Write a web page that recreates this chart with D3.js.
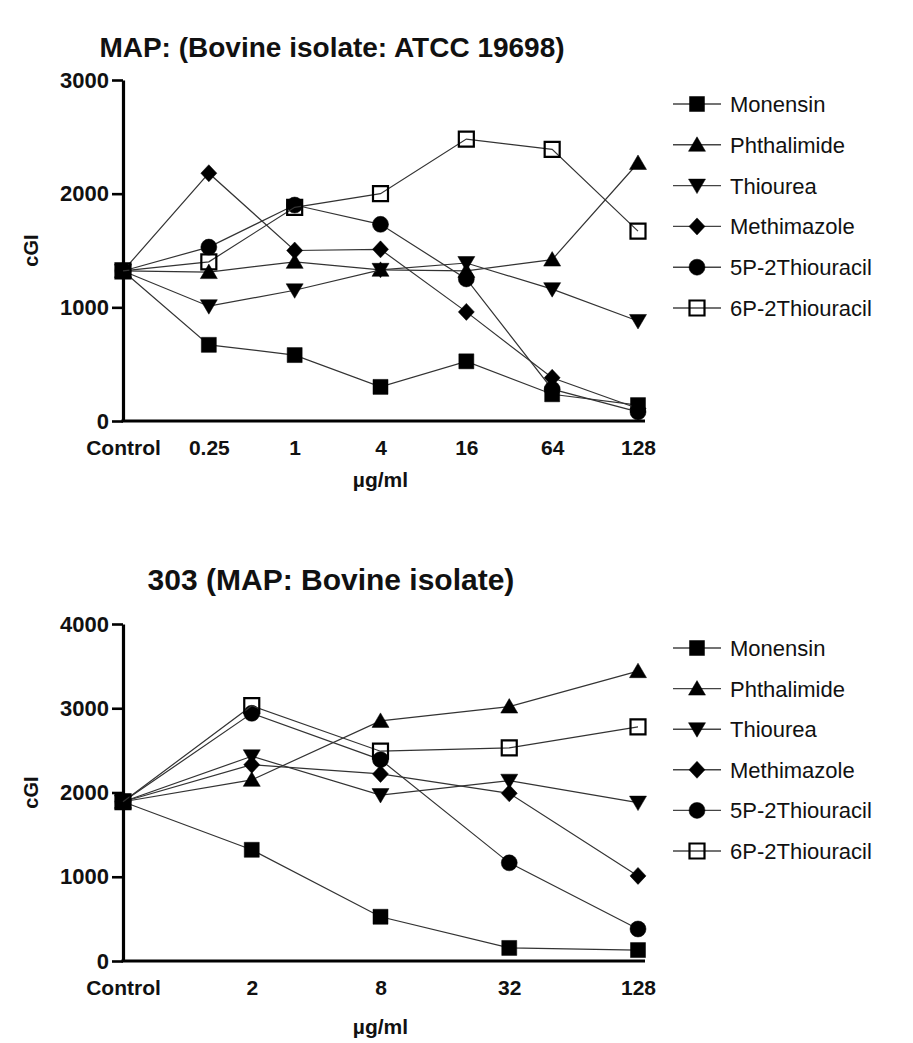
<!DOCTYPE html>
<html>
<head>
<meta charset="utf-8">
<script src="https://cdn.jsdelivr.net/npm/d3@7"></script>
<style>
  html, body { margin: 0; padding: 0; background: #fff; }
  svg { display: block; }
  text { font-family: "Liberation Sans", Arial, Helvetica, sans-serif; fill: #111; }
</style>
</head>
<body>
<svg id="chart" width="913" height="1043"></svg>
<script>
// ---------- DATA ----------
const seriesNames = ["Monensin", "Phthalimide", "Thiourea", "Methimazole", "5P-2Thiouracil", "6P-2Thiouracil"];
const seriesShapes = ["square", "triangleUp", "triangleDown", "diamond", "circle", "openSquare"];

// Top panel: MAP: (Bovine isolate: ATCC 19698)
const topTitle = "MAP: (Bovine isolate: ATCC 19698)";
const topCategories = ["Control", "0.25", "1", "4", "16", "64", "128"];
const topYTicks = [0, 1000, 2000, 3000];
const topMonensin      = [1320, 670, 580, 300, 525, 235, 140];
const topPhthalimide   = [1320, 1310, 1400, 1330, 1320, 1420, 2270];
const topThiourea      = [1320, 1010, 1150, 1330, 1390, 1160, 880];
const topMethimazole   = [1320, 2180, 1500, 1510, 960, 380, 110];
const top5PThiouracil  = [1320, 1530, 1900, 1730, 1250, 280, 80];
const top6PThiouracil  = [1320, 1400, 1880, 2000, 2480, 2390, 1670];

// Bottom panel: 303 (MAP: Bovine isolate)
const bottomTitle = "303 (MAP: Bovine isolate)";
const bottomCategories = ["Control", "2", "8", "32", "128"];
const bottomYTicks = [0, 1000, 2000, 3000, 4000];
const bottomMonensin     = [1890, 1320, 525, 155, 130];
const bottomPhthalimide  = [1890, 2150, 2850, 3020, 3440];
const bottomThiourea     = [1890, 2430, 1970, 2140, 1880];
const bottomMethimazole  = [1890, 2330, 2220, 1990, 1010];
const bottom5PThiouracil = [1890, 2940, 2390, 1165, 380];
const bottom6PThiouracil = [1890, 3030, 2490, 2530, 2780];

const yLabel = "cGI";
const xLabel = "µg/ml";

// ---------- DRAWING ----------
const svg = d3.select("#chart");

function shapePath(type, cx, cy) {
  const p = d3.path();
  if (type === "square" || type === "openSquare") {
    const h = 7.5;
    p.rect(cx - h, cy - h, 2 * h, 2 * h);
  } else if (type === "triangleUp") {
    p.moveTo(cx, cy - 8); p.lineTo(cx + 8.5, cy + 6.5); p.lineTo(cx - 8.5, cy + 6.5); p.closePath();
  } else if (type === "triangleDown") {
    p.moveTo(cx, cy + 8); p.lineTo(cx + 8.5, cy - 6.5); p.lineTo(cx - 8.5, cy - 6.5); p.closePath();
  } else if (type === "diamond") {
    p.moveTo(cx, cy - 8.5); p.lineTo(cx + 8, cy); p.lineTo(cx, cy + 8.5); p.lineTo(cx - 8, cy); p.closePath();
  } else if (type === "circle") {
    p.moveTo(cx + 8, cy); p.arc(cx, cy, 8, 0, 2 * Math.PI);
  }
  return p.toString();
}

function drawMarker(g, type, cx, cy) {
  const open = type === "openSquare";
  g.append("path")
    .attr("d", shapePath(type, cx, cy))
    .attr("fill", open ? "none" : "#000")
    .attr("stroke", "#000")
    .attr("stroke-width", open ? 2.2 : 0.5);
}

function drawPanel(cfg) {
  const g = svg.append("g");
  const x = d3.scalePoint().domain(cfg.categories).range([cfg.left, cfg.right]);
  const y = d3.scaleLinear().domain([0, d3.max(cfg.yTicks)]).range([cfg.bottom, cfg.top]);

  // title
  g.append("text")
    .attr("x", cfg.titleX).attr("y", cfg.titleY)
    .attr("text-anchor", "middle")
    .style("font-size", cfg.titleSize + "px").style("font-weight", "bold")
    .text(cfg.title);

  // y axis
  const ya = g.append("g")
    .attr("transform", `translate(${cfg.left},0)`)
    .call(d3.axisLeft(y).tickValues(cfg.yTicks).tickSize(11).tickSizeOuter(0).tickPadding(3).tickFormat(d3.format("d")));
  ya.select(".domain").attr("stroke", "#000").attr("stroke-width", 3.2);
  ya.selectAll(".tick line").attr("stroke", "#000").attr("stroke-width", 2.6);
  ya.selectAll(".tick text")
    .style("font-size", "22px").style("font-weight", "bold")
    .style("font-family", "'Liberation Sans', Arial, sans-serif").attr("fill", "#111");

  // x axis
  const xa = g.append("g")
    .attr("transform", `translate(0,${cfg.bottom})`)
    .call(d3.axisBottom(x).tickSize(0).tickPadding(19));
  xa.select(".domain").remove();
  xa.append("line")
    .attr("x1", x.range()[0] - 1.6).attr("x2", x.range()[1] + 7)
    .attr("y1", 0).attr("y2", 0)
    .attr("stroke", "#000").attr("stroke-width", 3.2);
  xa.selectAll(".tick text")
    .style("font-size", "21px").style("font-weight", "bold")
    .style("font-family", "'Liberation Sans', Arial, sans-serif").attr("fill", "#111");

  // axis titles
  g.append("text")
    .attr("x", (x.range()[0] + x.range()[1]) / 2).attr("y", cfg.xLabelY)
    .attr("text-anchor", "middle")
    .style("font-size", "21px").style("font-weight", "bold")
    .text(xLabel);
  g.append("text")
    .attr("transform", `translate(${cfg.yLabelX},${(cfg.top + cfg.bottom) / 2}) rotate(-90)`)
    .attr("text-anchor", "middle")
    .style("font-size", "20px").style("font-weight", "bold")
    .text(yLabel);

  // series
  const line = d3.line().x((d, i) => x(cfg.categories[i])).y(d => y(d));
  cfg.series.forEach((vals, si) => {
    const sg = g.append("g");
    sg.append("path").datum(vals)
      .attr("d", line).attr("fill", "none")
      .attr("stroke", "#333").attr("stroke-width", 1.2);
    vals.forEach((v, i) => drawMarker(sg, seriesShapes[si], x(cfg.categories[i]), y(v)));
  });

  // legend
  const lg = g.append("g");
  seriesNames.forEach((name, si) => {
    const ly = cfg.legendY + si * cfg.legendStep;
    lg.append("line")
      .attr("x1", cfg.legendX).attr("x2", cfg.legendX + 48)
      .attr("y1", ly).attr("y2", ly)
      .attr("stroke", "#444").attr("stroke-width", 1.4);
    drawMarker(lg, seriesShapes[si], cfg.legendX + 24, ly);
    lg.append("text")
      .attr("x", cfg.legendX + 57).attr("y", ly)
      .attr("dy", "0.36em")
      .style("font-size", "22px")
      .text(name);
  });
}

drawPanel({
  title: topTitle, titleX: 332, titleY: 57, titleSize: 28,
  categories: topCategories, yTicks: topYTicks,
  left: 123, right: 638, top: 80, bottom: 421,
  xLabelY: 487, yLabelX: 38,
  series: [topMonensin, topPhthalimide, topThiourea, topMethimazole, top5PThiouracil, top6PThiouracil],
  legendX: 673, legendY: 104, legendStep: 40.8
});

drawPanel({
  title: bottomTitle, titleX: 331, titleY: 590, titleSize: 30,
  categories: bottomCategories, yTicks: bottomYTicks,
  left: 123, right: 638, top: 624, bottom: 961,
  xLabelY: 1034, yLabelX: 38,
  series: [bottomMonensin, bottomPhthalimide, bottomThiourea, bottomMethimazole, bottom5PThiouracil, bottom6PThiouracil],
  legendX: 673, legendY: 648, legendStep: 40.6
});
</script>
</body>
</html>
